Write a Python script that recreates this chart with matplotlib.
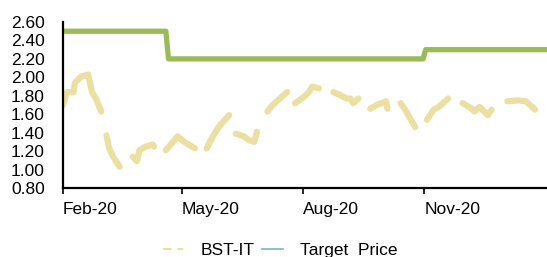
import numpy as np
import pandas as pd
import matplotlib
matplotlib.use("Agg")
import matplotlib.pyplot as plt
import matplotlib.dates as mdates
from matplotlib.lines import Line2D

plt.rcParams['font.family'] = ['Liberation Sans', 'DejaVu Sans']

# BST-IT share price (NaN marks breaks in the series)
price_dates = [
    "2020-02-01", "2020-02-04", "2020-02-09", "2020-02-10", "2020-02-15", "2020-02-20",
    "2020-02-23", "2020-02-26", "2020-03-01", "2020-03-03",
    "2020-03-05", "2020-03-07", "2020-03-10", "2020-03-15", "2020-03-20",
    "2020-03-25", "2020-03-28", "2020-03-30", "2020-04-04", "2020-04-09", "2020-04-10", "2020-04-15",
    "2020-04-19", "2020-04-28", "2020-05-03", "2020-05-11", "2020-05-15",
    "2020-05-20", "2020-05-25", "2020-05-30", "2020-06-06", "2020-06-09",
    "2020-06-11", "2020-06-17", "2020-06-21", "2020-06-25", "2020-06-27", "2020-07-01",
    "2020-07-05", "2020-07-09", "2020-07-16", "2020-07-20", "2020-07-23",
    "2020-07-26", "2020-07-31", "2020-08-05", "2020-08-08", "2020-08-13", "2020-08-18",
    "2020-08-24", "2020-08-29", "2020-09-03", "2020-09-06", "2020-09-08", "2020-09-12", "2020-09-16",
    "2020-09-21", "2020-09-26", "2020-10-03", "2020-10-04", "2020-10-09",
    "2020-10-14", "2020-10-17", "2020-10-25", "2020-10-29",
    "2020-11-03", "2020-11-08", "2020-11-12", "2020-11-19", "2020-11-25",
    "2020-11-30", "2020-12-07", "2020-12-09", "2020-12-13", "2020-12-19", "2020-12-22", "2020-12-28",
    "2021-01-03", "2021-01-11", "2021-01-17", "2021-01-24",
]
nan = np.nan
price_values = [
    1.70, 1.84, 1.84, 1.94, 2.01, 2.03,
    1.84, 1.77, 1.63, nan,
    1.37, 1.23, 1.14, 1.03, nan,
    1.14, 1.09, 1.21, 1.25, 1.27, 1.25, nan,
    1.21, 1.36, 1.30, 1.23, nan,
    1.23, 1.37, 1.48, 1.59, nan,
    1.39, 1.36, 1.32, 1.30, 1.41, nan,
    1.63, 1.70, 1.79, 1.84, nan,
    1.72, 1.77, 1.83, 1.90, 1.88, nan,
    1.84, 1.81, 1.77, 1.77, 1.72, 1.77, nan,
    1.66, 1.70, 1.74, 1.66, nan,
    1.72, 1.66, 1.46, nan,
    1.54, 1.65, 1.68, 1.77, nan,
    1.72, 1.66, 1.63, 1.68, 1.59, 1.65, nan,
    1.74, 1.75, 1.74, 1.65,
]

# Target price
tp_dates = ["2020-02-01", "2020-04-19", "2020-04-21", "2020-10-31", "2020-11-02", "2021-02-02"]
tp_values = [2.50, 2.50, 2.20, 2.20, 2.30, 2.30]

xticks = ["2020-02-01", "2020-05-01", "2020-08-01", "2020-11-01"]
yticks = [0.80, 1.00, 1.20, 1.40, 1.60, 1.80, 2.00, 2.20, 2.40, 2.60]

price_color = "#ECDFA2"
tp_color = "#9BBB59"
legend_tp_color = "#7FB0CC"

fig = plt.figure(figsize=(5.47, 2.57), dpi=100)
ax = fig.add_axes([63 / 547, 1 - 188 / 257, 1 - 63 / 547, (188 - 22) / 257])

ax.plot(pd.to_datetime(price_dates), price_values, color=price_color, lw=4.5,
        solid_capstyle='round', solid_joinstyle='round')
ax.plot(pd.to_datetime(tp_dates), tp_values, color=tp_color, lw=3.8,
        solid_capstyle='butt', solid_joinstyle='round')

ax.set_xlim(pd.Timestamp("2020-02-01"), pd.Timestamp("2021-02-02"))
ax.set_ylim(0.80, 2.60)
ax.set_yticks(yticks)
ax.set_yticklabels([f"{v:.2f}" for v in yticks])
ax.set_xticks(pd.to_datetime(xticks))
ax.xaxis.set_major_formatter(mdates.DateFormatter("%b-%y"))
for lab in ax.get_xticklabels():
    lab.set_ha('left')

ax.tick_params(axis='y', length=0, pad=13, labelsize=12.5)
ax.tick_params(axis='x', length=4, width=1.2, direction='out', pad=6, labelsize=12.5)
for s in ['top', 'right']:
    ax.spines[s].set_visible(False)
for s in ['left', 'bottom']:
    ax.spines[s].set_linewidth(1.6)
    ax.spines[s].set_color('black')

handles = [
    Line2D([0], [0], color=price_color, lw=1.5, linestyle=(0, (4, 3))),
    Line2D([0], [0], color=legend_tp_color, lw=1.2),
]
fig.legend(handles, ["BST-IT", "Target  Price"], loc='center',
           bbox_to_anchor=(0.512, 0.025), ncol=2, frameon=False, fontsize=12.5,
           handlelength=1.2, handletextpad=1.0, columnspacing=0.4, borderpad=0)

fig.savefig("out.png", dpi=100)
